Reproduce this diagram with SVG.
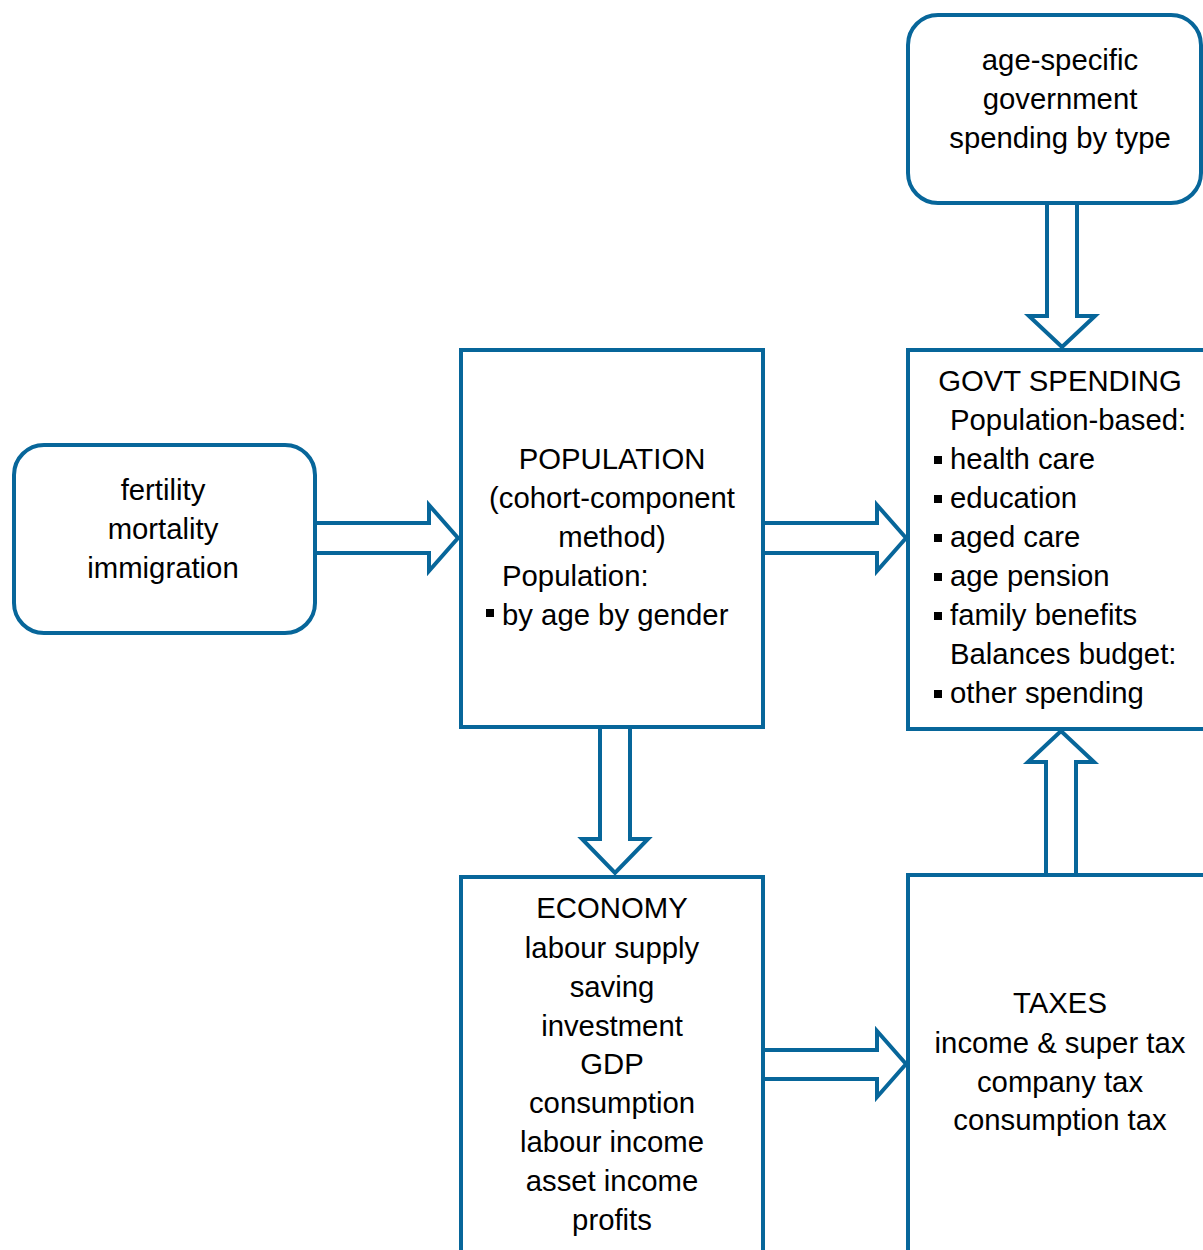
<svg xmlns="http://www.w3.org/2000/svg" width="1203" height="1250" viewBox="0 0 1203 1250">
  <style>
    .box { fill: #ffffff; stroke: #07669a; stroke-width: 4; }
    .arrow { fill: #ffffff; stroke: #07669a; stroke-width: 4; stroke-linejoin: miter; }
    .t { font-family: "Liberation Sans", Arial, sans-serif; font-size: 29.3px; fill: #000000; }
    .c { text-anchor: middle; }
    .bullet { fill: #000000; }
  </style>
  <rect width="1203" height="1250" fill="#ffffff"/>

  <!-- block arrows between the boxes -->
  <g id="connectors">
    <path class="arrow" d="M315,523 H429 V505 L458,538 L429,571 V553 H315 Z"/>
    <path class="arrow" d="M763,523 H877 V505 L906,538 L877,571 V553 H763 Z"/>
    <path class="arrow" d="M763,1050 H877 V1031 L906,1064 L877,1097 V1079 H763 Z"/>
    <path class="arrow" d="M1047,203 V316 H1029 L1062,347 L1095,316 H1077 V203 Z"/>
    <path class="arrow" d="M600,727 V839 H582 L615,873 L648,839 H630 V727 Z"/>
    <path class="arrow" d="M1046,875 V762 H1028 L1061,731 L1094,762 H1076 V875 Z"/>
  </g>

  <g id="drivers">
    <rect class="box" x="14" y="445" width="301" height="188" rx="30"/>
    <text class="t c" x="163" y="500">fertility</text>
    <text class="t c" x="163" y="539">mortality</text>
    <text class="t c" x="163" y="578">immigration</text>
  </g>

  <g id="spending-profiles">
    <rect class="box" x="908" y="15" width="293" height="188" rx="30"/>
    <text class="t c" x="1060" y="70">age-specific</text>
    <text class="t c" x="1060" y="109">government</text>
    <text class="t c" x="1060" y="148">spending by type</text>
  </g>

  <g id="population">
    <rect class="box" x="461" y="350" width="302" height="377"/>
    <text class="t c" x="612" y="469">POPULATION</text>
    <text class="t c" x="612" y="508">(cohort-component</text>
    <text class="t c" x="612" y="547">method)</text>
    <text class="t" x="502" y="586">Population:</text>
    <rect class="bullet" x="486" y="609" width="8" height="8"/>
    <text class="t" x="502" y="625">by age by gender</text>
  </g>

  <g id="govt-spending">
    <rect class="box" x="908" y="350" width="310" height="379"/>
    <text class="t c" x="1060" y="391">GOVT SPENDING</text>
    <text class="t" x="950" y="430">Population-based:</text>
    <rect class="bullet" x="934" y="456" width="8" height="8"/>
    <text class="t" x="950" y="469">health care</text>
    <rect class="bullet" x="934" y="495" width="8" height="8"/>
    <text class="t" x="950" y="508">education</text>
    <rect class="bullet" x="934" y="534" width="8" height="8"/>
    <text class="t" x="950" y="547">aged care</text>
    <rect class="bullet" x="934" y="573" width="8" height="8"/>
    <text class="t" x="950" y="586">age pension</text>
    <rect class="bullet" x="934" y="612" width="8" height="8"/>
    <text class="t" x="950" y="625">family benefits</text>
    <text class="t" x="950" y="664">Balances budget:</text>
    <rect class="bullet" x="934" y="690" width="8" height="8"/>
    <text class="t" x="950" y="703">other spending</text>
  </g>

  <g id="economy">
    <rect class="box" x="461" y="877" width="302" height="400"/>
    <text class="t c" x="612" y="918">ECONOMY</text>
    <text class="t c" x="612" y="958">labour supply</text>
    <text class="t c" x="612" y="997">saving</text>
    <text class="t c" x="612" y="1036">investment</text>
    <text class="t c" x="612" y="1074">GDP</text>
    <text class="t c" x="612" y="1113">consumption</text>
    <text class="t c" x="612" y="1152">labour income</text>
    <text class="t c" x="612" y="1191">asset income</text>
    <text class="t c" x="612" y="1230">profits</text>
  </g>

  <g id="taxes">
    <rect class="box" x="908" y="875" width="310" height="400"/>
    <text class="t c" x="1060" y="1013">TAXES</text>
    <text class="t c" x="1060" y="1053">income &amp; super tax</text>
    <text class="t c" x="1060" y="1092">company tax</text>
    <text class="t c" x="1060" y="1130">consumption tax</text>
  </g>
</svg>
